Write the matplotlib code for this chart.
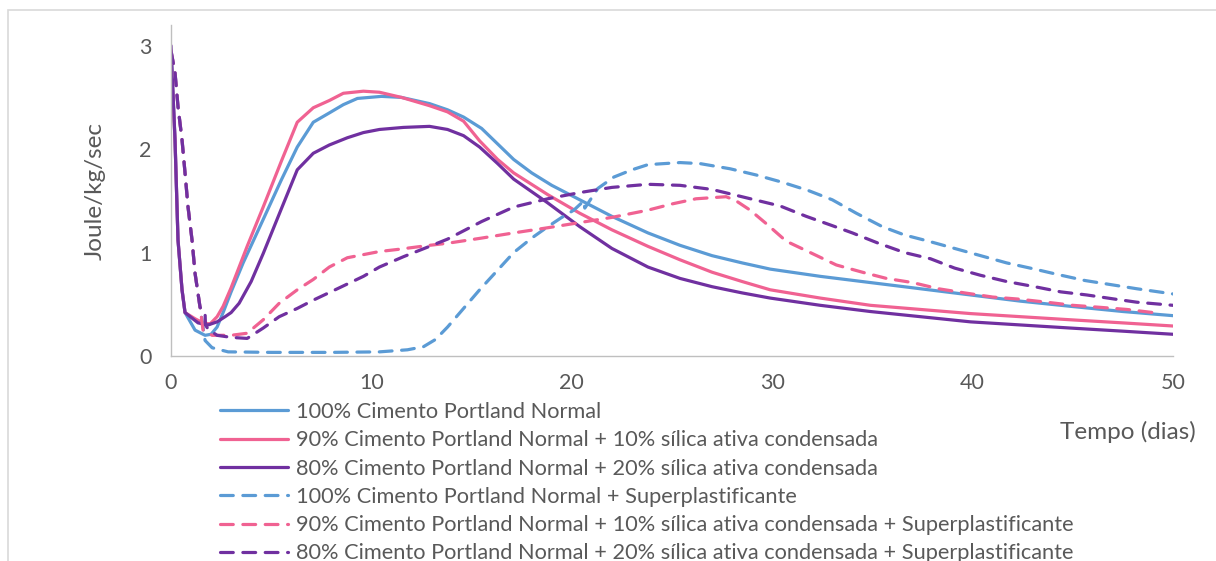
import matplotlib
matplotlib.use("Agg")
import matplotlib.pyplot as plt
from matplotlib.patches import Rectangle

# Heat of hydration curves (Joule/kg/sec) against time in days
labels = [
    "100% Cimento Portland Normal",
    "90% Cimento Portland Normal + 10% sílica ativa condensada",
    "80% Cimento Portland Normal + 20% sílica ativa condensada",
    "100% Cimento Portland Normal + Superplastificante",
    "90% Cimento Portland Normal + 10% sílica ativa condensada + Superplastificante",
    "80% Cimento Portland Normal + 20% sílica ativa condensada + Superplastificante",
]

cpn_x = [0, 0.2, 0.35, 0.55, 0.7, 1.2, 1.7, 2.0, 2.3, 2.6, 3.0, 3.6, 4.6, 5.5, 6.3, 7.1,
         7.9, 8.6, 9.3, 10.5, 11.5, 12.9, 13.8, 14.6, 15.5, 16.3, 17.1, 18.0, 19.0, 20.4,
         22.0, 23.8, 25.4, 27.0, 28.5, 29.9, 32.4, 34.9, 37.4, 39.9, 42.4, 44.9, 47.5, 50]
cpn_y = [2.95, 2.09, 1.12, 0.64, 0.42, 0.25, 0.20, 0.21, 0.28, 0.42, 0.62, 0.9, 1.32, 1.70,
         2.02, 2.26, 2.35, 2.43, 2.49, 2.51, 2.50, 2.44, 2.38, 2.31, 2.20, 2.05, 1.90, 1.77,
         1.65, 1.51, 1.35, 1.19, 1.07, 0.97, 0.90, 0.84, 0.77, 0.71, 0.65, 0.59, 0.53, 0.48,
         0.43, 0.39]

sil10_x = [0, 0.2, 0.35, 0.55, 0.7, 1.2, 1.6, 1.95, 2.3, 2.6, 3.0, 3.8, 4.6, 5.5, 6.3, 7.1,
           7.9, 8.6, 9.6, 10.4, 11.5, 12.9, 13.8, 14.6, 15.4, 16.3, 17.1, 18.8, 20.4, 22.0,
           23.8, 25.4, 27.0, 28.5, 29.9, 32.4, 34.9, 37.4, 39.9, 42.4, 44.9, 47.5, 50]
sil10_y = [2.9, 2.09, 1.12, 0.64, 0.42, 0.36, 0.32, 0.31, 0.38, 0.48, 0.66, 1.06, 1.44, 1.88,
           2.26, 2.40, 2.47, 2.54, 2.56, 2.55, 2.50, 2.42, 2.36, 2.27, 2.08, 1.90, 1.77, 1.56,
           1.38, 1.22, 1.06, 0.93, 0.81, 0.72, 0.64, 0.56, 0.49, 0.45, 0.41, 0.38, 0.35, 0.32,
           0.29]

sil20_x = [0, 0.2, 0.35, 0.55, 0.7, 1.35, 1.85, 2.3, 2.7, 3.0, 3.4, 4.0, 4.6, 5.5, 6.3, 7.1,
           7.9, 8.8, 9.6, 10.4, 11.6, 12.9, 13.8, 14.6, 15.4, 16.3, 17.1, 18.8, 20.4, 22.0,
           23.8, 25.4, 27.0, 28.5, 29.9, 32.4, 34.9, 37.4, 39.9, 42.4, 44.9, 47.5, 50]
sil20_y = [3.0, 2.09, 1.12, 0.64, 0.42, 0.32, 0.30, 0.33, 0.38, 0.42, 0.51, 0.72, 0.99, 1.42,
           1.80, 1.96, 2.04, 2.11, 2.16, 2.19, 2.21, 2.22, 2.19, 2.13, 2.02, 1.86, 1.71, 1.48,
           1.25, 1.04, 0.86, 0.75, 0.67, 0.61, 0.56, 0.49, 0.43, 0.38, 0.33, 0.30, 0.27, 0.24,
           0.21]

cpn_sp_x = [0, 0.2, 0.35, 0.55, 0.7, 0.85, 1.05, 1.2, 1.45, 1.7, 2.05, 2.85, 5.0, 8.0, 10.4,
            11.8, 12.6, 13.2, 13.8, 14.6, 15.4, 16.3, 17.1, 18.0, 18.8, 19.5, 20.1, 20.6,
            20.65, 21.3, 22.1, 23.0, 23.8, 25.4, 26.4, 27.9, 29.2, 30.5, 31.8, 33.0, 34.2,
            35.5, 36.6, 37.8, 39.1, 40.4, 41.7, 43.1, 44.2, 45.6, 46.9, 48.2, 50]
cpn_sp_y = [2.95, 2.74, 2.41, 2.09, 1.77, 1.44, 1.12, 0.80, 0.47, 0.15, 0.08, 0.04, 0.035,
            0.035, 0.04, 0.06, 0.09, 0.16, 0.28, 0.46, 0.64, 0.83, 1.0, 1.14, 1.25, 1.34,
            1.41, 1.50, 1.43, 1.62, 1.73, 1.80, 1.85, 1.87, 1.86, 1.81, 1.75, 1.68, 1.60,
            1.51, 1.38, 1.25, 1.17, 1.11, 1.04, 0.97, 0.90, 0.84, 0.79, 0.73, 0.69, 0.65, 0.60]

sil10_sp_x = [0, 0.2, 0.35, 0.55, 0.7, 0.85, 1.05, 1.2, 1.45, 1.6, 2.05, 3.0, 3.8, 4.6, 5.4,
              6.3, 7.1, 7.9, 8.8, 10.4, 11.3, 12.9, 13.8, 15.5, 17.1, 18.8, 20.4, 22.0, 23.8,
              25.0, 26.2, 27.7, 28.2, 28.9, 29.7, 30.7, 31.9, 33.2, 34.5, 35.7, 37.0, 38.3,
              39.6, 41.0, 42.3, 43.7, 45.0, 46.4, 47.7, 49.0, 49.4]
sil10_sp_y = [2.95, 2.74, 2.41, 2.09, 1.77, 1.44, 1.12, 0.80, 0.47, 0.25, 0.20, 0.20, 0.22,
              0.35, 0.51, 0.64, 0.74, 0.86, 0.95, 1.01, 1.03, 1.07, 1.09, 1.14, 1.19, 1.24,
              1.29, 1.34, 1.41, 1.47, 1.52, 1.54, 1.50, 1.41, 1.28, 1.11, 1.00, 0.88, 0.81,
              0.75, 0.71, 0.65, 0.61, 0.57, 0.55, 0.52, 0.49, 0.47, 0.45, 0.42, 0.41]

sil20_sp_x = [0, 0.2, 0.35, 0.55, 0.7, 0.85, 1.05, 1.2, 1.45, 1.7, 1.72, 1.85, 2.3, 3.0, 3.8,
              4.6, 5.4, 6.3, 7.1, 8.3, 9.6, 10.4, 11.6, 12.9, 13.8, 15.5, 17.1, 18.8, 20.4,
              22.0, 23.8, 25.4, 27.0, 28.7, 30.4, 31.7, 33.0, 34.0, 35.3, 36.6, 37.9, 39.1,
              40.4, 41.7, 43.1, 44.4, 45.7, 47.1, 48.2, 50]
sil20_sp_y = [2.95, 2.74, 2.41, 2.09, 1.77, 1.44, 1.12, 0.80, 0.47, 0.42, 0.30, 0.26, 0.20,
              0.18, 0.17, 0.27, 0.38, 0.46, 0.54, 0.65, 0.77, 0.86, 0.96, 1.06, 1.13, 1.30,
              1.44, 1.52, 1.58, 1.63, 1.66, 1.65, 1.61, 1.53, 1.45, 1.35, 1.26, 1.19, 1.09,
              1.00, 0.94, 0.85, 0.78, 0.72, 0.67, 0.62, 0.59, 0.55, 0.52, 0.49]

x_ticks = [0, 10, 20, 30, 40, 50]
y_ticks = [0, 1, 2, 3]

BLUE = "#5B9BD5"
PINK = "#F06292"
PURPLE = "#7030A0"
TEXT = "#595959"

plt.rcParams["font.family"] = ["Lato", "DejaVu Sans"]

fig = plt.figure(figsize=(12.16, 5.61), dpi=100)
fig.patches.append(Rectangle((8 / 1216, -0.2), 1.2, 0.2 + 551 / 561, transform=fig.transFigure,
                             fill=False, edgecolor="#d9d9d9", linewidth=1.2))

ax = fig.add_axes([171 / 1216, 205 / 561, 1002 / 1216, 331 / 561])

series = [
    (cpn_x, cpn_y, BLUE, "-"),
    (sil10_x, sil10_y, PINK, "-"),
    (sil20_x, sil20_y, PURPLE, "-"),
    (cpn_sp_x, cpn_sp_y, BLUE, "--"),
    (sil10_sp_x, sil10_sp_y, PINK, "--"),
    (sil20_sp_x, sil20_sp_y, PURPLE, "--"),
]
for (xs, ys, col, ls), lab in zip(series, labels):
    kw = dict(dashes=(4, 3)) if ls == "--" else {}
    ax.plot(xs, ys, color=col, linewidth=2.3, linestyle=ls, label=lab,
            solid_joinstyle="round", dash_joinstyle="round", dash_capstyle="round",
            solid_capstyle="round", **kw)

ax.set_xlim(0, 50)
ax.set_ylim(0, 3.2)
ax.set_xticks(x_ticks)
ax.set_yticks(y_ticks)
ax.tick_params(length=0, labelsize=15.5, labelcolor=TEXT)
ax.tick_params(axis="y", pad=14)
ax.tick_params(axis="x", pad=12)
for side in ("top", "right"):
    ax.spines[side].set_visible(False)
for side in ("left", "bottom"):
    ax.spines[side].set_color("#bfbfbf")
    ax.spines[side].set_linewidth(1.0)

fig.text(95 / 1216, 1 - 191 / 561, "Joule/kg/sec", rotation=90, ha="center", va="center",
         fontsize=17.5, color=TEXT)
fig.text(1196 / 1216, 1 - 432 / 561, "Tempo (dias)", ha="right", va="center",
         fontsize=17.5, color=TEXT)

leg = fig.legend(loc="upper left", bbox_to_anchor=(220 / 1216, 1 - 402 / 561),
                 frameon=False, fontsize=15.7, labelcolor=TEXT, handlelength=3.1,
                 handletextpad=0.37, labelspacing=0.38, borderpad=0, borderaxespad=0)

fig.savefig("out.png", dpi=100)
